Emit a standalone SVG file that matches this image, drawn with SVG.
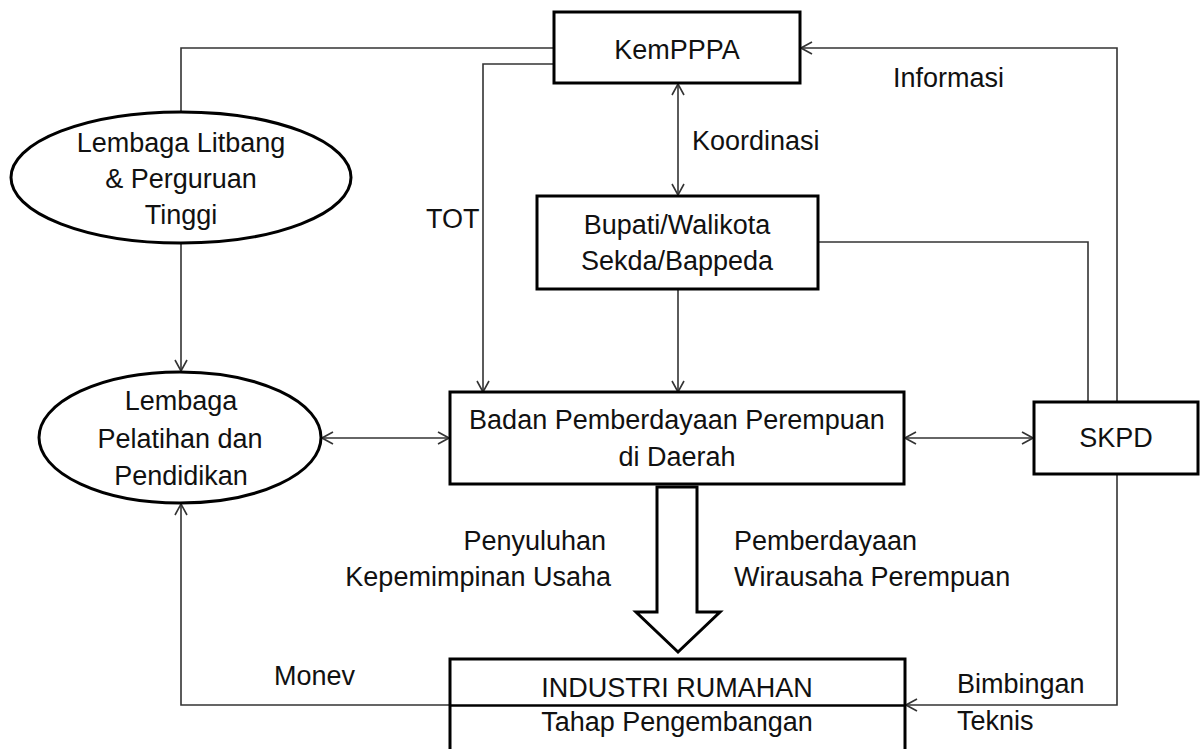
<svg xmlns="http://www.w3.org/2000/svg" width="1201" height="749" viewBox="0 0 1201 749">
<defs>
<style>
.box{fill:#fff;stroke:#000;stroke-width:3}
.conn{fill:none;stroke:#333;stroke-width:1.6}
text{font-family:"Liberation Sans",Arial,sans-serif;font-size:27px;fill:#111}
.c{text-anchor:middle}
.e{text-anchor:end}
</style>
<marker id="arr" viewBox="0 0 12 14" refX="12" refY="7" markerWidth="12" markerHeight="14" markerUnits="userSpaceOnUse" orient="auto-start-reverse">
<path d="M1,1 L12,7 L1,13" fill="none" stroke="#333" stroke-width="1.6"/>
</marker>
</defs>
<rect width="1201" height="749" fill="#fff"/>

<g id="connectors">
<polyline class="conn" points="554,48 181,48 181,112"/>
<polyline class="conn" points="554,64 483,64 483,392" marker-end="url(#arr)"/>
<line class="conn" x1="678" y1="84" x2="678" y2="195" marker-start="url(#arr)" marker-end="url(#arr)"/>
<line class="conn" x1="678" y1="290" x2="678" y2="392" marker-end="url(#arr)"/>
<polyline class="conn" points="818,242 1088,242 1088,402"/>
<polyline class="conn" points="1117,402 1117,48 801,48" marker-end="url(#arr)"/>
<polyline class="conn" points="1117,474 1117,705 906,705" marker-end="url(#arr)"/>
<line class="conn" x1="181" y1="243" x2="181" y2="371" marker-end="url(#arr)"/>
<line class="conn" x1="322" y1="438" x2="449" y2="438" marker-start="url(#arr)" marker-end="url(#arr)"/>
<line class="conn" x1="905" y1="438" x2="1033" y2="438" marker-start="url(#arr)" marker-end="url(#arr)"/>
<polyline class="conn" points="450,705 181,705 181,504" marker-end="url(#arr)"/>
<polygon class="box" points="657,487 697,487 697,612 720,612 678,652 636,612 657,612"/>
<text x="426" y="228">TOT</text>
<text x="692" y="150">Koordinasi</text>
<text x="893" y="87">Informasi</text>
<text class="e" x="606" y="550">Penyuluhan</text>
<text class="e" x="611" y="586">Kepemimpinan Usaha</text>
<text x="734" y="550">Pemberdayaan</text>
<text x="734" y="586">Wirausaha Perempuan</text>
<text x="274" y="685">Monev</text>
<text x="957" y="693">Bimbingan</text>
<text x="957" y="730">Teknis</text>
</g>

<g id="kemppa">
<rect class="box" x="554" y="12" width="246" height="71"/>
<text class="c" x="677" y="59">KemPPPA</text>
</g>

<g id="litbang">
<ellipse class="box" cx="181" cy="177.5" rx="170" ry="65.5"/>
<text class="c" x="181" y="152">Lembaga Litbang</text>
<text class="c" x="181" y="188">&amp; Perguruan</text>
<text class="c" x="181" y="224">Tinggi</text>
</g>

<g id="bupati">
<rect class="box" x="537" y="196" width="281" height="93"/>
<text class="c" x="677" y="234">Bupati/Walikota</text>
<text class="c" x="677" y="270">Sekda/Bappeda</text>
</g>

<g id="pelatihan">
<ellipse class="box" cx="180" cy="437.5" rx="141" ry="65.5"/>
<text class="c" x="181" y="410">Lembaga</text>
<text class="c" x="180" y="448">Pelatihan dan</text>
<text class="c" x="181" y="485">Pendidikan</text>
</g>

<g id="badan">
<rect class="box" x="450" y="392" width="454" height="92"/>
<text class="c" x="677" y="429">Badan Pemberdayaan Perempuan</text>
<text class="c" x="677" y="466">di Daerah</text>
</g>

<g id="skpd">
<rect class="box" x="1034" y="402" width="164" height="72"/>
<text class="c" x="1116" y="447">SKPD</text>
</g>

<g id="industri">
<rect class="box" x="450" y="659" width="455" height="110"/>
<line x1="450" y1="705.5" x2="905" y2="705.5" stroke="#000" stroke-width="2.5"/>
<text class="c" x="677" y="697">INDUSTRI RUMAHAN</text>
<text class="c" x="677" y="731">Tahap Pengembangan</text>
</g>
</svg>
